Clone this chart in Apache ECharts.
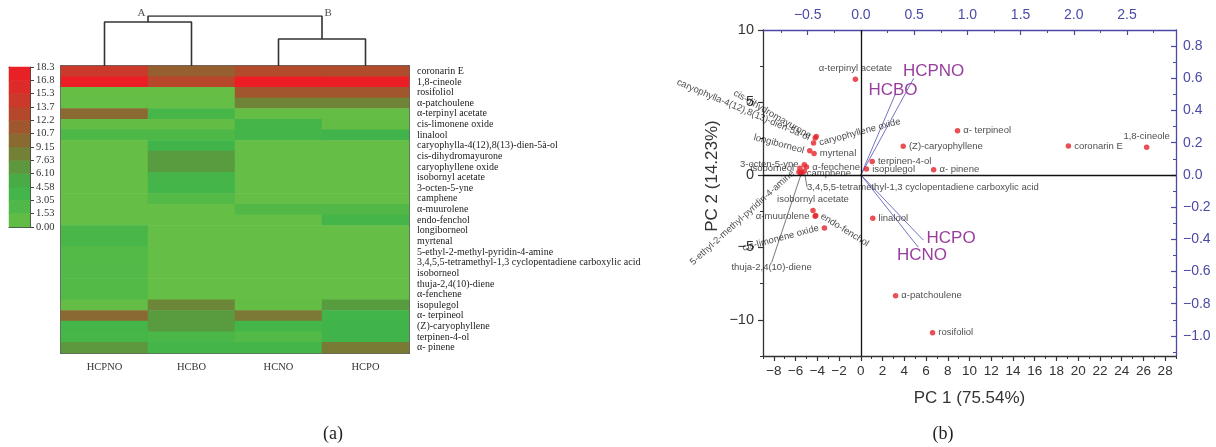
<!DOCTYPE html>
<html><head><meta charset="utf-8">
<script src="https://cdn.jsdelivr.net/npm/echarts@6/dist/echarts.min.js"></script>
<style>html,body{margin:0;padding:0;background:#fff}#c{width:1216px;height:447px}</style>
</head><body><div id="c"></div>
<script>
// ---------------- DATA ----------------
const samples = ['HCPNO', 'HCBO', 'HCNO', 'HCPO'];
const compounds = ['coronarin E', '1,8-cineole', 'rosifoliol', 'α-patchoulene', 'α-terpinyl acetate',
  'cis-limonene oxide', 'linalool', 'caryophylla-4(12),8(13)-dien-5à-ol', 'cis-dihydromayurone',
  'caryophyllene oxide', 'isobornyl acetate', '3-octen-5-yne', 'camphene', 'α-muurolene', 'endo-fenchol',
  'longiborneol', 'myrtenal', '5-ethyl-2-methyl-pyridin-4-amine',
  '3,4,5,5-tetramethyl-1,3 cyclopentadiene carboxylic acid', 'isoborneol', 'thuja-2,4(10)-diene',
  'α-fenchene', 'isopulegol', 'α- terpineol', '(Z)-caryophyllene', 'terpinen-4-ol', 'α- pinene'];
// heat-map values (same order as compounds)
const vHCPNO = [14.5, 18.0, 0.3, 0.4, 10.0, 0.6, 2.6, 0.4, 0.4, 0.4, 0.4, 0.4, 0.4, 0.4, 0.4, 3.0, 3.0, 2.0, 2.0, 2.0, 2.0, 2.0, 0.5, 10.0, 3.8, 3.2, 6.8];
const vHCBO  = [10.8, 13.2, 0.3, 0.4, 3.2, 0.6, 2.6, 4.2, 6.6, 6.6, 3.5, 3.8, 2.0, 0.4, 0.4, 0.4, 0.4, 0.4, 0.4, 0.4, 0.4, 0.4, 8.0, 6.6, 6.6, 2.8, 3.6];
const vHCNO  = [12.8, 18.3, 11.5, 8.2, 0.5, 3.5, 3.6, 0.4, 0.4, 0.4, 0.4, 0.4, 0.4, 2.2, 0.4, 0.4, 0.4, 0.4, 0.4, 0.4, 0.4, 0.4, 0.5, 9.0, 3.8, 2.0, 3.8];
const vHCPO  = [12.6, 18.0, 11.5, 8.2, 0.5, 0.6, 4.2, 0.4, 0.4, 0.4, 0.4, 0.4, 0.4, 2.2, 3.5, 0.4, 0.4, 0.4, 0.4, 0.4, 0.4, 0.4, 6.5, 4.0, 4.2, 4.2, 8.8];
const colorbarTicks = ['0.00', '1.53', '3.05', '4.58', '6.10', '7.63', '9.15', '10.7', '12.2', '13.7', '15.3', '16.8', '18.3'];
// dendrogram merge heights
const mergeA = 44, mergeB = 27, mergeRoot = 50;
// PCA scores (same order as compounds)
const pc1 = [19.1, 26.3, 6.6, 3.2, -0.5, -3.35, 1.1, -4.2, -4.1, -4.35, -4.4, -5.2, -5.5, -4.2, -4.15, -4.7, -4.3, -5.7, -5.2, -5.6, -5.45, -5.0, 0.52, 8.9, 3.9, 1.05, 6.7];
const pc2 = [2.0, 1.9, -10.9, -8.35, 6.6, -3.66, -3.0, 2.55, 2.65, 2.2, -2.45, 0.7, 0.1, -2.85, -2.8, 1.67, 1.48, 0.2, 0.25, 0.45, 0.15, 0.55, 0.4, 3.05, 1.97, 0.93, 0.35];
// PCA loadings (same order as samples)
const loadX = [0.493, 0.32, 0.536, 0.583];
const loadY = [0.597, 0.497, -0.447, -0.403];
// tick values
const pc1Ticks = [-8, -6, -4, -2, 0, 2, 4, 6, 8, 10, 12, 14, 16, 18, 20, 22, 24, 26, 28];
const pc1Minor = [-9, -7, -5, -3, -1, 1, 3, 5, 7, 9, 11, 13, 15, 17, 19, 21, 23, 25, 27, 29];
const pc2Ticks = [-10, -5, 0, 5, 10];
const pc2Minor = [-12.5, -7.5, -2.5, 2.5, 7.5];
const loadXTicks = [-0.5, 0, 0.5, 1.0, 1.5, 2.0, 2.5];
const loadXMinor = [-0.75, -0.25, 0.25, 0.75, 1.25, 1.75, 2.25, 2.75];
const loadYTicks = [-1.0, -0.8, -0.6, -0.4, -0.2, 0, 0.2, 0.4, 0.6, 0.8];
const loadYMinor = [-1.1, -0.9, -0.7, -0.5, -0.3, -0.1, 0.1, 0.3, 0.5, 0.7, 0.9];

// ---------------- STYLE ----------------
const SERIF = 'Liberation Serif, Times New Roman, serif';
const SANS = 'Liberation Sans, Arial, sans-serif';
const BLUE = '#4a4aa6';
const DARK = '#333';
const heatColors = ['#6abf45', '#58ba46', '#48b649', '#3eb44a', '#52a242', '#688c3a', '#7e7634',
  '#946030', '#aa502b', '#c0402a', '#d4322a', '#e42528', '#ee1c24'];
const pcaLabel = {
  'coronarin E': {position: 'right', offset: [2, 6]},
  '1,8-cineole': {position: 'top', offset: [-1, 3]},
  'rosifoliol': {position: 'right', offset: [-1, 1]},
  'α-patchoulene': {position: 'right', offset: [-3, 2]},
  'α-terpinyl acetate': {position: 'top', offset: [-20, 4]},
  'cis-limonene oxide': {position: 'left', rotate: 15, offset: [1, 7]},
  'linalool': {position: 'right', offset: [-3, -1]},
  'caryophylla-4(12),8(13)-dien-5à-ol': {position: 'left', rotate: -23, offset: [-3, -5]},
  'cis-dihydromayurone': {position: 'left', rotate: -30, offset: [2, -11]},
  'caryophyllene oxide': {position: 'right', rotate: 15, offset: [0, -2]},
  'isobornyl acetate': {position: 'top', offset: [8, 3]},
  '3-octen-5-yne': {position: 'left', offset: [-6, -6]},
  'camphene': {position: 'right', offset: [-4, 0]},
  'α-muurolene': {position: 'left', offset: [3, 6]},
  'endo-fenchol': {position: 'right', rotate: -32, offset: [-2, -8]},
  'longiborneol': {position: 'left', rotate: -15, offset: [3, 0]},
  'myrtenal': {position: 'right', offset: [2, -1]},
  '5-ethyl-2-methyl-pyridin-4-amine': {position: 'left', rotate: 42, offset: [-3, 3]},
  '3,4,5,5-tetramethyl-1,3 cyclopentadiene carboxylic acid': {position: 'right'},
  'isoborneol': {position: 'left', offset: [-4, -2]},
  'thuja-2,4(10)-diene': {position: 'inside'},
  'α-fenchene': {position: 'right', offset: [-9, -2]},
  'isopulegol': {position: 'right', offset: [-3, 0]},
  'α- terpineol': {position: 'right', offset: [-2, -4]},
  '(Z)-caryophyllene': {position: 'right', offset: [-3, 0]},
  'terpinen-4-ol': {position: 'right', offset: [-3, 0]},
  'α- pinene': {position: 'right', offset: [-3, 0]}
};
const movedLabels = {
  'thuja-2,4(10)-diene': [-30, 95],
  '3,4,5,5-tetramethyl-1,3 cyclopentadiene carboxylic acid': [-3, 16]
};
const loadLabel = {
  'HCPNO': {position: 'right', offset: [-16, -7]},
  'HCBO': {position: 'inside', offset: [-2, -5]},
  'HCNO': {position: 'bottom', offset: [4, -6]},
  'HCPO': {position: 'right', offset: [-2, -1]}
};

// ---------------- BUILD ----------------
const sampleValues = [vHCPNO, vHCBO, vHCNO, vHCPO];
const heatData = [];
compounds.forEach((n, r) => sampleValues.forEach((arr, c) => heatData.push([c, r, arr[r]])));
const cbNums = colorbarTicks.map(Number);
const cbData = cbNums.slice(0, -1).map((v, i) => [0, i, (v + cbNums[i + 1]) / 2]);
const minus = s => String(s).replace('-', '\u2212');

const lineOnly = (extra) => Object.assign({
  type: 'value', min: 0, max: 1, axisLine: {show: true, onZero: false, lineStyle: {color: DARK, width: 1.5}},
  axisTick: {show: false}, axisLabel: {show: false}, splitLine: {show: false}
}, extra);

const xAxis = [
  // 0,1 colorbar
  {gridIndex: 0, type: 'category', data: [''], position: 'bottom', axisLine: {show: true, onZero: false, lineStyle: {color: '#444', width: 1}}, axisTick: {show: false}, axisLabel: {show: false}},
  lineOnly({gridIndex: 0, position: 'top', axisLine: {show: true, onZero: false, lineStyle: {color: '#444', width: 1}}}),
  // 2,3 heatmap
  {gridIndex: 1, type: 'category', data: samples, position: 'bottom', axisLine: {show: true, onZero: false, lineStyle: {color: DARK, width: 1.5}}, axisTick: {show: false},
    axisLabel: {fontFamily: SERIF, fontSize: 10.5, color: DARK, margin: 9}},
  lineOnly({gridIndex: 1, position: 'top'}),
  // 4 dendrogram
  {gridIndex: 2, type: 'value', min: 0, max: 4, show: false},
  // 5 PCA bottom
  {gridIndex: 3, type: 'value', min: -9, max: 29, position: 'bottom',
    axisLine: {show: true, onZero: false, lineStyle: {color: DARK, width: 1.3}},
    axisTick: {show: true, customValues: pc1Ticks, length: 5, lineStyle: {color: DARK, width: 1.2}},
    axisLabel: {customValues: pc1Ticks, fontFamily: SANS, fontSize: 13.5, color: DARK, margin: 8, formatter: v => minus(v)},
    splitLine: {show: false},
    name: 'PC 1 (75.54%)', nameLocation: 'middle', nameGap: 34, nameTextStyle: {fontFamily: SANS, fontSize: 17, color: DARK}},
  // 6 PCA top (loadings)
  {gridIndex: 3, type: 'value', min: -0.92, max: 2.96, position: 'top',
    axisLine: {show: true, onZero: false, lineStyle: {color: BLUE, width: 1.3}},
    axisTick: {show: true, inside: true, customValues: loadXTicks, length: 5, lineStyle: {color: BLUE, width: 1.2}},
    axisLabel: {customValues: loadXTicks, fontFamily: SANS, fontSize: 14, color: BLUE, margin: 8, formatter: v => minus(v.toFixed(1))},
    splitLine: {show: false}},
  // 7 PCA bottom minor
  {gridIndex: 3, type: 'value', min: -9, max: 29, position: 'bottom', axisLine: {show: false, onZero: false},
    axisTick: {show: true, customValues: pc1Minor, length: 3, lineStyle: {color: DARK, width: 1}}, axisLabel: {show: false}, splitLine: {show: false}},
  // 8 PCA top minor
  {gridIndex: 3, type: 'value', min: -0.92, max: 2.96, position: 'top', axisLine: {show: false, onZero: false},
    axisTick: {show: true, inside: true, customValues: loadXMinor, length: 3, lineStyle: {color: BLUE, width: 1}}, axisLabel: {show: false}, splitLine: {show: false}}
];

const yAxis = [
  // 0,1 colorbar
  {gridIndex: 0, type: 'category', data: cbData.map((d, i) => i), position: 'left', axisLine: {show: true, onZero: false, lineStyle: {color: '#444', width: 1}}, axisTick: {show: false}, axisLabel: {show: false}},
  {gridIndex: 0, type: 'value', min: 0, max: 12, interval: 1, position: 'right',
    axisLine: {show: true, onZero: false, lineStyle: {color: '#444', width: 1}},
    axisTick: {show: true, length: 4, lineStyle: {color: '#444'}},
    axisLabel: {fontFamily: SERIF, fontSize: 10.5, color: DARK, margin: 6, formatter: v => colorbarTicks[v]},
    splitLine: {show: false}},
  // 2,3 heatmap
  {gridIndex: 1, type: 'category', data: compounds, inverse: true, position: 'right',
    axisLine: {show: true, onZero: false, lineStyle: {color: DARK, width: 1.5}}, axisTick: {show: false},
    axisLabel: {interval: 0, fontFamily: SERIF, fontSize: 10, color: '#222', margin: 8}},
  lineOnly({gridIndex: 1, position: 'left'}),
  // 4 dendrogram
  {gridIndex: 2, type: 'value', min: 0, max: mergeRoot, show: false},
  // 5 PCA left
  {gridIndex: 3, type: 'value', min: -12.5, max: 10, position: 'left',
    axisLine: {show: true, onZero: false, lineStyle: {color: DARK, width: 1.3}},
    axisTick: {show: true, customValues: pc2Ticks, length: 5, lineStyle: {color: DARK, width: 1.2}},
    axisLabel: {customValues: pc2Ticks, fontFamily: SANS, fontSize: 14.5, color: DARK, margin: 9, formatter: v => minus(v)},
    splitLine: {show: false},
    name: 'PC 2 (14.23%)', nameLocation: 'middle', nameGap: 42,
    nameTextStyle: {fontFamily: SANS, fontSize: 17, color: DARK, padding: [0, 0, 0, 34]}},
  // 6 PCA right (loadings)
  {gridIndex: 3, type: 'value', min: -1.125, max: 0.9, position: 'right',
    axisLine: {show: true, onZero: false, lineStyle: {color: BLUE, width: 1.3}},
    axisTick: {show: true, inside: true, customValues: loadYTicks, length: 5, lineStyle: {color: BLUE, width: 1.2}},
    axisLabel: {customValues: loadYTicks, fontFamily: SANS, fontSize: 14, color: BLUE, margin: 7, formatter: v => minus(v.toFixed(1))},
    splitLine: {show: false}},
  // 7 PCA left minor
  {gridIndex: 3, type: 'value', min: -12.5, max: 10, position: 'left', axisLine: {show: false, onZero: false},
    axisTick: {show: true, customValues: pc2Minor, length: 3, lineStyle: {color: DARK, width: 1}}, axisLabel: {show: false}, splitLine: {show: false}},
  // 8 PCA right minor
  {gridIndex: 3, type: 'value', min: -1.125, max: 0.9, position: 'right', axisLine: {show: false, onZero: false},
    axisTick: {show: true, inside: true, customValues: loadYMinor, length: 3, lineStyle: {color: BLUE, width: 1}}, axisLabel: {show: false}, splitLine: {show: false}}
];

const dendroLine = (data) => ({type: 'line', xAxisIndex: 4, yAxisIndex: 4, symbol: 'none', data: data,
  lineStyle: {color: DARK, width: 1.6}, silent: true});

const series = [
  {type: 'heatmap', xAxisIndex: 0, yAxisIndex: 0, data: cbData, silent: true},
  {type: 'heatmap', xAxisIndex: 2, yAxisIndex: 2, data: heatData, silent: true},
  dendroLine([[0.5, 0], [0.5, mergeA], [1.5, mergeA], [1.5, 0]]),
  dendroLine([[2.5, 0], [2.5, mergeB], [3.5, mergeB], [3.5, 0]]),
  dendroLine([[1, mergeA], [1, mergeRoot], [3, mergeRoot], [3, mergeB]]),
  {type: 'scatter', xAxisIndex: 4, yAxisIndex: 4, symbolSize: 1, itemStyle: {color: 'rgba(0,0,0,0)'}, silent: true,
    data: [
      {name: 'A', value: [1, mergeRoot], label: {show: true, position: 'left', offset: [0, -3]}},
      {name: 'B', value: [3, mergeRoot], label: {show: true, position: 'right', offset: [0, -3]}}
    ],
    label: {formatter: p => p.name, fontFamily: SERIF, fontSize: 11, color: '#222', distance: 2}},
  {type: 'scatter', xAxisIndex: 5, yAxisIndex: 5, symbolSize: 5.5, z: 4,
    itemStyle: {color: '#e5232a'},
    label: {show: true, distance: 3, fontFamily: SANS, fontSize: 9.5, color: '#1a1a1a', formatter: p => p.name},
    labelLine: {show: false, lineStyle: {color: '#555', width: 0.8}},
    labelLayout: function (params) {
      const m = movedLabels[compounds[params.dataIndex]];
      return m ? {dx: m[0], dy: m[1]} : {};
    },
    data: compounds.map((n, i) => ({
      name: n, value: [pc1[i], pc2[i]], label: pcaLabel[n],
      labelLine: movedLabels[n] ? {show: true, lineStyle: {color: '#555', width: 0.8}} : {show: false}
    })),
    markLine: {silent: true, symbol: ['none', 'none'], label: {show: false}, animation: false,
      lineStyle: {color: '#111', type: 'solid', width: 1.3},
      data: [{xAxis: 0}, {yAxis: 0}]}}
];
samples.forEach((s, i) => {
  series.push({type: 'line', xAxisIndex: 6, yAxisIndex: 6, symbol: 'circle', symbolSize: 1, z: 3,
    lineStyle: {color: '#7474c4', width: 1}, itemStyle: {color: '#7474c4'}, silent: true,
    data: [{value: [0, 0], label: {show: false}},
      {value: [loadX[i], loadY[i]], label: Object.assign({show: true, formatter: s, fontFamily: SANS, fontSize: 17, color: '#9a3e9e', distance: 5}, loadLabel[s])}]});
});

const option = {
  animation: false,
  backgroundColor: '#fff',
  title: [
    {text: '(a)', left: 333, top: 425, textAlign: 'center', padding: 0, textStyle: {fontFamily: SERIF, fontSize: 18, fontWeight: 'normal', color: '#222'}},
    {text: '(b)', left: 943, top: 425, textAlign: 'center', padding: 0, textStyle: {fontFamily: SERIF, fontSize: 18, fontWeight: 'normal', color: '#222'}}
  ],
  grid: [
    {left: 9, top: 67, width: 21, height: 160, outerBoundsMode: 'none'},
    {left: 61, top: 66, width: 348, height: 287, outerBoundsMode: 'none'},
    {left: 61, top: 16, width: 348, height: 50, outerBoundsMode: 'none'},
    {left: 763, top: 30, width: 413, height: 326, outerBoundsMode: 'none'}
  ],
  visualMap: {show: false, type: 'continuous', min: 0, max: 18.3, seriesIndex: [0, 1], inRange: {color: heatColors}},
  xAxis: xAxis,
  yAxis: yAxis,
  series: series
};
const chart = echarts.init(document.getElementById('c'));
chart.setOption(option);
</script>
</body></html>
